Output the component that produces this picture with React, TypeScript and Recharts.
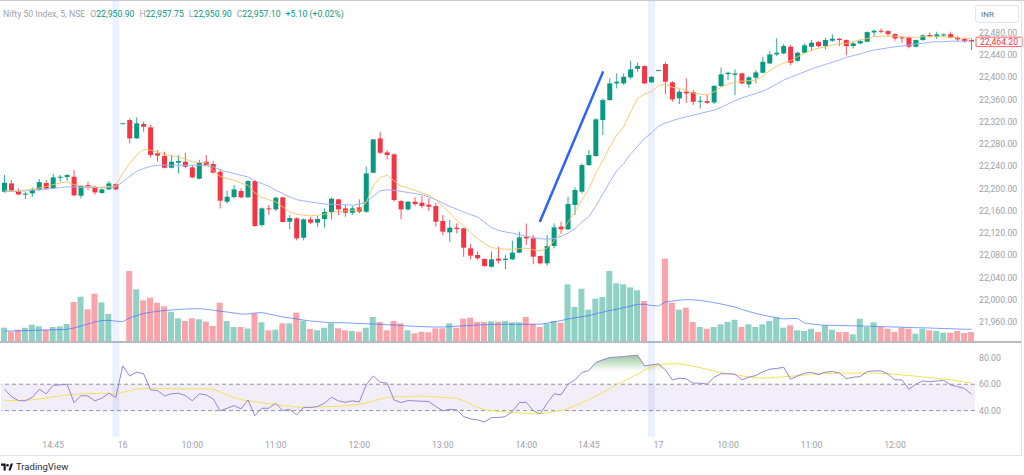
import {
  Area,
  Bar,
  ComposedChart,
  Line,
  ReferenceArea,
  ReferenceLine,
  XAxis,
  YAxis,
} from "recharts"

// 5-minute bars, three sessions (15th tail, 16th full, 17th morning)
const day15 = [
  "14:10", "14:15", "14:20", "14:25", "14:30", "14:35", "14:40", "14:45", "14:50", "14:55",
  "15:00", "15:05", "15:10", "15:15", "15:20", "15:25", "15:30",
]
const day16 = [
  "09:05", "09:15", "09:20", "09:25", "09:30", "09:35", "09:40", "09:45", "09:50", "09:55",
  "10:00", "10:05", "10:10", "10:15", "10:20", "10:25", "10:30", "10:35", "10:40", "10:45", "10:50", "10:55",
  "11:00", "11:05", "11:10", "11:15", "11:20", "11:25", "11:30", "11:35", "11:40", "11:45", "11:50", "11:55",
  "12:00", "12:05", "12:10", "12:15", "12:20", "12:25", "12:30", "12:35", "12:40", "12:45", "12:50", "12:55",
  "13:00", "13:05", "13:10", "13:15", "13:20", "13:25", "13:30", "13:35", "13:40", "13:45", "13:50", "13:55",
  "14:00", "14:05", "14:10", "14:15", "14:20", "14:25", "14:30", "14:35", "14:40", "14:45", "14:50", "14:55",
  "15:00", "15:05", "15:10", "15:15", "15:20", "15:25", "15:30",
]
const day17 = [
  "09:05", "09:15", "09:20", "09:25", "09:30", "09:35", "09:40", "09:45", "09:50", "09:55",
  "10:00", "10:05", "10:10", "10:15", "10:20", "10:25", "10:30", "10:35", "10:40", "10:45", "10:50", "10:55",
  "11:00", "11:05", "11:10", "11:15", "11:20", "11:25", "11:30", "11:35", "11:40", "11:45", "11:50", "11:55",
  "12:00", "12:05", "12:10", "12:15", "12:20", "12:25", "12:30", "12:35", "12:40", "12:45", "12:50", "12:55",
]

const open = [
  22194.4, 22209.3, 22195.6, 22189.6, 22191.4, 22197.4, 22209.9, 22200.4, 22219.5, 22220.7,
  22221.3, 22187.2, 22206.4, 22202.2, 22192.0, 22198.6, 22208.1, 22317.0, 22323.2, 22290.2,
  22316.0, 22310.0, 22263.3, 22258.5, 22237.5, 22246.5, 22248.3, 22238.1, 22217.7, 22248.3,
  22244.1, 22230.3, 22176.4, 22184.8, 22195.6, 22184.2, 22213.5, 22134.5, 22164.4, 22162.6,
  22184.2, 22140.5, 22146.5, 22111.7, 22144.7, 22138.7, 22145.3, 22157.8, 22180.6, 22164.4,
  22156.6, 22166.2, 22158.4, 22228.5, 22290.2, 22265.1, 22261.5, 22177.6, 22162.6, 22176.4,
  22174.6, 22171.0, 22168.6, 22141.7, 22121.3, 22129.7, 22128.5, 22092.6, 22080.6, 22073.4,
  22059.6, 22074.0, 22071.6, 22072.8, 22084.8, 22113.5, 22110.5, 22078.8, 22065.6, 22096.7,
  22131.5, 22126.7, 22170.4, 22194.4, 22242.3, 22258.5, 22323.2, 22359.1, 22389.1, 22389.1,
  22399.8, 22415.4, 22420.2, 22390.9, 22412.4, 22423.8, 22390.9, 22362.1, 22374.1, 22373.5,
  22356.1, 22357.3, 22354.9, 22384.3, 22405.8, 22404.6, 22407.1, 22387.3, 22399.3, 22408.3,
  22425.0, 22441.2, 22443.0, 22455.0, 22429.8, 22444.2, 22455.0, 22463.4, 22456.2, 22465.8,
  22469.4, 22467.0, 22456.2, 22461.0, 22464.0, 22480.7, 22483.7, 22483.1, 22477.7, 22471.7,
  22471.7, 22455.0, 22467.0, 22475.9, 22473.0, 22475.3, 22477.7, 22471.7, 22468.8, 22467.0,
]
const high = [
  22224.3, 22215.3, 22200.4, 22194.4, 22202.2, 22217.1, 22215.3, 22226.1, 22224.3, 22226.1,
  22233.3, 22205.8, 22212.3, 22205.2, 22200.4, 22213.5, 22209.3, 22317.8, 22326.2, 22328.0,
  22320.2, 22314.8, 22269.3, 22266.3, 22260.3, 22260.3, 22264.5, 22242.3, 22251.3, 22260.3,
  22249.5, 22235.1, 22196.2, 22206.4, 22200.4, 22215.3, 22215.3, 22166.2, 22170.4, 22185.4,
  22185.4, 22152.4, 22148.3, 22146.5, 22149.5, 22150.7, 22164.4, 22183.6, 22181.8, 22170.4,
  22168.6, 22180.6, 22239.3, 22289.0, 22302.2, 22269.3, 22263.3, 22179.4, 22177.6, 22184.2,
  22186.6, 22182.4, 22174.6, 22152.4, 22143.5, 22137.5, 22129.7, 22100.3, 22086.6, 22074.6,
  22086.6, 22095.6, 22080.6, 22106.3, 22122.5, 22137.5, 22116.5, 22080.0, 22116.5, 22137.5,
  22140.5, 22185.4, 22202.2, 22245.3, 22269.3, 22326.2, 22362.1, 22398.0, 22407.0, 22407.0,
  22429.8, 22426.2, 22421.4, 22402.2, 22413.6, 22428.0, 22393.3, 22378.3, 22398.0, 22377.1,
  22366.3, 22369.9, 22386.1, 22417.8, 22410.0, 22414.2, 22408.3, 22402.3, 22413.1, 22437.0,
  22447.2, 22470.0, 22459.8, 22458.0, 22446.0, 22461.0, 22467.0, 22465.2, 22471.2, 22477.1,
  22470.6, 22468.2, 22464.0, 22468.2, 22482.5, 22485.5, 22487.9, 22484.9, 22478.9, 22474.1,
  22474.1, 22468.2, 22477.1, 22480.7, 22481.9, 22478.9, 22481.9, 22474.1, 22471.1, 22469.4,
]
const low = [
  22192.6, 22194.4, 22187.8, 22181.2, 22185.4, 22196.2, 22198.6, 22199.8, 22212.3, 22214.1,
  22186.6, 22182.4, 22197.4, 22189.0, 22190.8, 22197.4, 22197.4, 22316.6, 22281.2, 22289.6,
  22302.2, 22256.1, 22248.3, 22236.3, 22236.3, 22227.3, 22236.3, 22218.9, 22216.5, 22241.7,
  22227.3, 22164.4, 22173.4, 22182.4, 22182.4, 22183.6, 22131.5, 22131.5, 22152.4, 22159.6,
  22139.3, 22126.7, 22106.9, 22106.9, 22136.3, 22131.5, 22129.7, 22144.7, 22152.4, 22149.5,
  22152.4, 22155.4, 22156.6, 22227.3, 22262.1, 22252.5, 22176.4, 22144.7, 22160.2, 22168.6,
  22164.4, 22159.6, 22131.5, 22116.5, 22104.5, 22119.5, 22077.6, 22072.8, 22071.6, 22059.6,
  22058.4, 22065.6, 22054.8, 22071.6, 22083.6, 22098.5, 22063.8, 22063.8, 22061.4, 22092.6,
  22118.3, 22125.5, 22152.5, 22191.4, 22240.5, 22257.3, 22296.2, 22357.9, 22380.1, 22386.1,
  22396.2, 22410.0, 22387.9, 22390.3, 22411.8, 22369.9, 22356.1, 22351.9, 22354.3, 22350.1,
  22344.1, 22351.9, 22351.9, 22383.1, 22395.0, 22368.1, 22387.3, 22381.3, 22389.1, 22407.1,
  22423.8, 22438.2, 22441.2, 22422.0, 22428.0, 22443.0, 22447.8, 22453.8, 22450.2, 22464.0,
  22456.2, 22440.0, 22452.0, 22459.8, 22463.4, 22473.0, 22478.9, 22473.0, 22465.8, 22462.2,
  22452.0, 22453.8, 22465.8, 22471.7, 22468.8, 22473.0, 22469.9, 22464.0, 22462.2, 22449.0,
]
const close = [
  22210.5, 22196.2, 22189.6, 22190.8, 22198.6, 22211.7, 22199.8, 22220.1, 22221.3, 22224.3,
  22187.8, 22204.6, 22203.4, 22193.2, 22198.6, 22209.3, 22198.6, 22317.4, 22290.2, 22317.2,
  22311.2, 22260.3, 22259.1, 22237.5, 22248.3, 22249.5, 22239.3, 22220.1, 22246.5, 22242.3,
  22228.5, 22178.2, 22185.4, 22198.6, 22184.2, 22213.5, 22132.7, 22164.4, 22162.6, 22183.6,
  22139.9, 22147.1, 22110.5, 22144.7, 22138.7, 22145.3, 22157.8, 22181.8, 22162.6, 22156.6,
  22164.4, 22158.4, 22227.3, 22288.4, 22264.5, 22260.3, 22179.4, 22162.6, 22176.4, 22172.2,
  22168.6, 22167.4, 22140.5, 22122.5, 22129.7, 22127.3, 22093.8, 22079.4, 22074.6, 22060.8,
  22072.8, 22070.4, 22074.0, 22084.8, 22112.3, 22110.5, 22077.6, 22065.6, 22096.7, 22130.3,
  22126.7, 22172.2, 22197.4, 22242.3, 22260.3, 22324.4, 22359.1, 22389.1, 22392.1, 22401.0,
  22414.2, 22420.2, 22389.1, 22401.0, 22413.0, 22392.1, 22360.3, 22374.1, 22371.1, 22356.1,
  22357.9, 22354.3, 22384.3, 22405.2, 22408.2, 22407.0, 22389.1, 22399.9, 22408.9, 22428.0,
  22441.2, 22444.2, 22456.2, 22426.2, 22444.2, 22457.4, 22462.2, 22456.2, 22467.0, 22469.4,
  22467.0, 22456.2, 22461.0, 22465.2, 22481.3, 22483.7, 22481.9, 22477.7, 22469.9, 22469.9,
  22455.0, 22467.0, 22475.3, 22473.5, 22477.1, 22477.1, 22471.1, 22468.2, 22465.2, 22464.2,
]
// volume in thousands
const volume = [
  13.3, 9.3, 11.3, 13.3, 16.3, 14.7, 11.3, 14.0, 14.7, 17.0,
  39.0, 44.3, 31.7, 47.3, 38.7, 27.0, 0, 0, 70.0, 51.7,
  40.7, 43.3, 38.3, 34.7, 29.3, 22.7, 20.0, 22.7, 21.7, 19.3,
  15.0, 38.3, 20.0, 14.0, 14.0, 12.5, 27.7, 18.7, 10.7, 11.3,
  17.7, 17.7, 28.3, 20.3, 12.0, 10.7, 13.3, 17.7, 12.7, 10.7,
  10.0, 9.3, 13.3, 24.0, 19.0, 10.7, 20.0, 17.7, 10.7, 7.7,
  9.3, 8.7, 12.7, 12.7, 17.7, 13.3, 22.3, 23.3, 19.0, 19.0,
  19.7, 19.3, 20.0, 18.7, 18.7, 24.0, 17.3, 14.0, 17.3, 20.0,
  18.3, 56.7, 34.0, 52.3, 31.3, 42.3, 44.0, 70.0, 57.7, 56.7,
  53.7, 50.7, 40.0, 0, 0, 82.5, 38.3, 31.3, 33.3, 19.0,
  14.0, 12.3, 14.0, 16.7, 19.0, 21.2, 14.0, 16.7, 14.0, 16.7,
  20.0, 23.3, 13.3, 15.7, 10.7, 10.0, 12.3, 9.0, 15.7, 11.3,
  9.0, 9.0, 6.7, 22.3, 14.0, 18.7, 14.0, 12.3, 9.0, 13.3,
  12.3, 7.3, 12.3, 10.7, 10.0, 8.3, 8.3, 10.0, 8.0, 9.0,
]
const volumeMA = [
  10, 10, 10.2, 10.4, 10.6, 10.8, 11, 11.2, 11.4, 11.7,
  13, 15, 17, 19, 20.5, 20.7, 19.8, 19.3, 23, 25.5,
  27.5, 28.7, 29.7, 30.5, 31, 31.5, 32, 32.2, 32.3, 31.7,
  30.8, 29.8, 29, 28, 27, 27, 28, 28.5, 27, 25.5,
  24, 23, 22, 21, 20, 19.5, 18.7, 18.3, 18.3, 18.2,
  17.8, 17.5, 17.2, 17, 16.7, 16.3, 16, 15.5, 15, 14.7,
  14.4, 14.1, 14, 14, 14.3, 14.8, 15.2, 15.6, 16, 16.3,
  16.7, 16.7, 16.7, 16.7, 16.7, 16.7, 16.7, 16.8, 17.8, 19.2,
  20.4, 22, 23.2, 24.3, 25.3, 27.3, 28.8, 30.5, 31.7, 33.3,
  35, 36.7, 36.7, 35.5, 35, 39, 40, 40.8, 41.3, 41.2,
  40.5, 39.5, 38.3, 37, 35.5, 34, 31.5, 29.5, 27.5, 26,
  24.5, 23.3, 22, 22.5, 22.5, 18, 17, 16.2, 15.7, 15.6,
  15.4, 15.3, 15.2, 15.1, 14.8, 14.6, 14.4, 14.2, 14, 13.8,
  13.5, 13.3, 13.2, 13, 12.7, 12.5, 12.3, 12, 11.8, 11.7,
]
const emaFast = [
  22196, 22196, 22196, 22197, 22199, 22201, 22204, 22207, 22210, 22212,
  22207, 22205, 22204, 22203, 22202, 22204, 22205, 22228, 22245, 22260,
  22270, 22269, 22266, 22262, 22259, 22257, 22253, 22248, 22247, 22246,
  22232, 22222, 22218, 22215, 22210, 22206, 22192, 22184, 22180, 22176,
  22167, 22158, 22154, 22152, 22151, 22152, 22154, 22157, 22159, 22160,
  22161, 22161, 22175, 22205, 22220, 22224, 22214, 22204, 22201, 22197,
  22192, 22188, 22180, 22168, 22156, 22143, 22133, 22121, 22110, 22101,
  22094, 22092, 22091, 22091, 22092, 22093, 22090, 22088, 22093, 22106,
  22120, 22140, 22158, 22180, 22200, 22228, 22250, 22275, 22296, 22311,
  22338, 22362, 22370, 22374, 22385, 22388, 22382, 22380, 22376, 22372,
  22370, 22368, 22374, 22382, 22388, 22391, 22393, 22394, 22395, 22402,
  22412, 22420, 22426, 22430, 22437, 22443, 22449, 22452, 22455, 22458,
  22460, 22461, 22464, 22467, 22470, 22473, 22474, 22474, 22474, 22473,
  22472, 22472, 22473, 22473, 22473, 22473, 22472, 22471, 22470, 22470,
]
const emaSlow = [
  22194, 22195, 22195, 22196, 22197, 22198, 22199, 22200, 22202, 22203,
  22203, 22202, 22202, 22202, 22202, 22202, 22203, 22212, 22222, 22231,
  22236, 22240, 22242, 22242, 22242, 22242, 22242, 22242, 22242, 22241,
  22239, 22234, 22230, 22227, 22224, 22221, 22214, 22209, 22204, 22197,
  22191, 22185, 22180, 22178, 22176, 22174, 22172, 22172, 22171, 22171,
  22170, 22172, 22176, 22186, 22196, 22198, 22197, 22195, 22193, 22191,
  22189, 22185, 22180, 22174, 22168, 22163, 22158, 22153, 22149, 22140,
  22130, 22125, 22122, 22120, 22117, 22114, 22112, 22110, 22109, 22110,
  22114, 22120, 22128, 22140, 22150, 22168, 22190, 22212, 22232, 22245,
  22262, 22276, 22290, 22300, 22312, 22318, 22322, 22326, 22329, 22332,
  22335, 22338, 22341, 22346, 22352, 22358, 22363, 22367, 22371, 22375,
  22381, 22388, 22395, 22400, 22405, 22410, 22415, 22419, 22423, 22427,
  22431, 22436, 22439, 22442, 22446, 22449, 22451, 22453, 22455, 22456,
  22458, 22460, 22461, 22463, 22464, 22464, 22465, 22465, 22465, 22465,
]
const rsi = [
  56.2, 50.6, 47.6, 47.4, 50.1, 56.2, 52.7, 59.2, 59.5, 60.0,
  46.1, 51.4, 51.1, 47.4, 49.4, 53.2, 49.9, 73.9, 66.3, 69.1,
  67.9, 55.7, 55.2, 51.1, 52.7, 53.2, 51.4, 47.4, 52.7, 51.9,
  48.9, 39.8, 41.8, 43.8, 41.3, 48.1, 36.2, 41.8, 41.8, 45.6,
  40.0, 41.0, 36.7, 42.5, 42.3, 43.1, 45.6, 50.1, 47.4, 46.3,
  47.4, 46.6, 59.5, 66.3, 61.5, 60.8, 48.1, 46.1, 47.6, 47.4,
  47.1, 46.9, 43.1, 39.8, 41.0, 40.5, 35.5, 33.7, 33.0, 31.4,
  34.7, 34.7, 35.5, 39.3, 46.1, 46.3, 40.0, 37.5, 45.6, 52.7,
  51.9, 60.0, 63.3, 68.9, 70.4, 76.5, 78.5, 80.3, 80.5, 81.0,
  81.5, 82.0, 73.9, 74.7, 75.4, 70.9, 63.3, 64.6, 64.1, 60.8,
  60.8, 60.0, 65.3, 67.9, 67.9, 67.6, 63.3, 65.3, 66.6, 69.4,
  71.4, 71.9, 72.9, 63.8, 66.3, 68.4, 68.9, 67.4, 69.1, 69.6,
  68.6, 64.3, 65.3, 65.8, 69.6, 70.1, 70.1, 67.6, 63.3, 63.3,
  56.2, 60.0, 62.5, 61.8, 62.5, 62.8, 59.5, 58.2, 56.7, 52.4,
]
const rsiMA = [
  47.6, 47.7, 47.8, 47.9, 48.1, 48.8, 49.6, 50.4, 51.2, 51.9,
  52.3, 52.6, 52.9, 53.1, 53.1, 52.8, 52.4, 53.8, 55.2, 56.3,
  56.7, 57.0, 56.9, 56.7, 56.5, 56.5, 56.5, 56.5, 56.5, 56.5,
  56.3, 54.0, 51.8, 49.8, 48.3, 47.5, 46.7, 45.9, 45.2, 44.6,
  43.9, 43.3, 42.7, 42.5, 42.6, 42.8, 43.0, 43.1, 43.4, 43.8,
  44.3, 44.8, 45.8, 47.2, 48.6, 50.1, 50.4, 50.6, 50.8, 51.0,
  51.0, 50.7, 50.4, 50.0, 49.7, 49.4, 47.5, 45.0, 42.5, 40.8,
  40.0, 39.4, 38.9, 38.6, 38.3, 38.0, 37.6, 37.7, 38.3, 39.2,
  40.1, 41.6, 43.5, 46.0, 48.5, 50.8, 53.7, 56.8, 59.5, 62.3,
  65.0, 67.8, 70.7, 72.8, 74.6, 75.3, 75.5, 75.4, 74.6, 73.6,
  72.5, 71.2, 69.8, 68.8, 68.0, 67.2, 66.4, 65.7, 65.0, 64.6,
  64.8, 65.2, 65.6, 66.0, 66.5, 67.0, 67.5, 67.8, 68.0, 68.2,
  68.4, 68.4, 68.4, 68.4, 68.4, 68.4, 68.3, 68.0, 67.5, 67.0,
  66.6, 66.1, 65.5, 65.0, 64.4, 63.9, 63.3, 62.5, 61.6, 60.8,
]

const priceTicks = [
  21960, 22000, 22040, 22080, 22120, 22160, 22200, 22240, 22280, 22320, 22360, 22400, 22440, 22480,
]
const rsiTicks = [40, 60, 80]
const timeTicks = [
  "15 14:45", "16 09:05", "16 10:00", "16 11:00", "16 12:00", "16 13:00",
  "16 14:00", "16 14:45", "17 09:05", "17 10:00", "17 11:00", "17 12:00",
]
const sessionCloseBars = ["15 15:30", "16 15:30"]
const trendLine = [
  { t: "16 14:10", price: 22141.7 },
  { t: "16 14:55", price: 22408.9 },
]
const lastPrice = 22464.2
const header = { O: "22,950.90", H: "22,957.75", L: "22,950.90", C: "22,957.10", change: "+5.10 (+0.02%)" }

const PRICE_DOMAIN = [21926, 22539]
const VOL_DOMAIN = [0, 341]
const RSI_DOMAIN = [20, 92]

const UP = "#089981"
const DOWN = "#f23645"
const AXIS_TEXT = "#9c9fa8"
const FONT = "Roboto, 'Noto Sans', sans-serif"

const times = [
  ...day15.map((m) => `15 ${m}`),
  ...day16.map((m) => `16 ${m}`),
  ...day17.map((m) => `17 ${m}`),
]

const rows = times.map((t, i) => ({
  t,
  open: open[i],
  high: high[i],
  low: low[i],
  close: close[i],
  candle: [low[i], high[i]],
  volume: volume[i],
  volumeMA: volumeMA[i],
  emaFast: emaFast[i],
  emaSlow: emaSlow[i],
  rsi: rsi[i],
  rsiMA: rsiMA[i],
  overbought: [70, Math.max(rsi[i], 70)],
  hlPrice: sessionCloseBars.includes(t) ? PRICE_DOMAIN : null,
  hlRsi: sessionCloseBars.includes(t) ? RSI_DOMAIN : null,
}))

const fmt2 = (v: number) =>
  v.toLocaleString("en-US", { minimumFractionDigits: 2, maximumFractionDigits: 2 })

const timeLabel = (t: string) => {
  const [day, hm] = t.split(" ")
  return hm === "09:05" ? day : hm
}

function Candle(props: any) {
  const { x, y, width, height } = props
  const d = props.payload ?? props
  const color = d.close >= d.open ? UP : DOWN
  const top = Math.min(y, y + height)
  const h = Math.abs(height)
  const k = h / (d.high - d.low)
  const yO = top + (d.high - d.open) * k
  const yC = top + (d.high - d.close) * k
  const cx = x + width / 2
  return (
    <g>
      <line x1={cx} x2={cx} y1={top} y2={top + h} stroke={color} strokeWidth={1} strokeOpacity={0.85} />
      <rect x={x} y={Math.min(yO, yC)} width={width} height={Math.max(Math.abs(yO - yC), 1)} fill={color} />
    </g>
  )
}

function VolumeBar(props: any) {
  const { x, y, width, height } = props
  const d = props.payload ?? props
  if (!height) return <g />
  return (
    <rect x={x} y={y} width={width} height={height} fill={d.close >= d.open ? UP : DOWN} fillOpacity={0.45} />
  )
}

function PriceTag(props: any) {
  const { viewBox } = props
  if (!viewBox) return null
  const x = viewBox.x + viewBox.width + 1
  const y = viewBox.y
  return (
    <g>
      <rect x={x} y={y - 4.5} width={46} height={9.5} rx={1} fill="#fff" stroke={DOWN} strokeWidth={0.8} />
      <text x={x + 23} y={y + 3} textAnchor="middle" fontSize={8.7} fontFamily={FONT} fill={DOWN}>
        {fmt2(lastPrice)}
      </text>
    </g>
  )
}

function Header() {
  const gray = { color: "#a0a3ab" }
  const val = { color: UP }
  return (
    <div
      style={{
        position: "absolute",
        left: 3,
        top: 8,
        fontSize: 8.7,
        lineHeight: "12px",
        whiteSpace: "nowrap",
        zIndex: 2,
      }}
    >
      <span style={gray}>Nifty 50 Index, 5, NSE</span>
      {(["O", "H", "L", "C"] as const).map((k) => (
        <span key={k} style={{ marginLeft: 5 }}>
          <span style={gray}>{k}</span>
          <span style={val}>{header[k]}</span>
        </span>
      ))}
      <span style={{ ...val, marginLeft: 5 }}>{header.change}</span>
    </div>
  )
}

function Logo() {
  return (
    <div style={{ position: "absolute", left: 1, top: 461, display: "flex", alignItems: "center", gap: 3 }}>
      <svg width={12} height={8} viewBox="0 0 14 8">
        <path d="M0 0h5.5v8H3V2.4H0z" fill="#131722" />
        <circle cx={7.6} cy={2} r={1.5} fill="#131722" />
        <path d="M8.6 8L11.4 0H14l-2.8 8z" fill="#131722" />
      </svg>
      <span style={{ fontSize: 9.5, color: "#2a2e39" }}>TradingView</span>
    </div>
  )
}

export default function App() {
  return (
    <div
      style={{
        position: "absolute",
        left: 0,
        top: 0,
        width: 1024,
        height: 475,
        background: "#fff",
        overflow: "hidden",
        fontFamily: FONT,
      }}
    >
      <Header />

      <div
        style={{
          position: "absolute",
          left: 975,
          top: 5,
          width: 44,
          height: 18,
          border: "1px solid #e0e3eb",
          borderRadius: 3,
          fontSize: 8,
          lineHeight: "18px",
          color: "#6a6d78",
          paddingLeft: 5,
          boxSizing: "border-box",
          background: "#fff",
          zIndex: 2,
        }}
      >
        INR
      </div>

      <div style={{ position: "absolute", left: 0, top: 0 }}>
        <ComposedChart
          width={1024}
          height={341}
          data={rows}
          margin={{ top: 0, right: 0, bottom: 0, left: 1 }}
          barCategoryGap={0}
        >
          <XAxis xAxisId="hl" dataKey="t" hide />
          <XAxis xAxisId="v" dataKey="t" hide />
          <XAxis xAxisId="c" dataKey="t" hide />
          <YAxis
            yAxisId="price"
            orientation="right"
            width={49}
            domain={PRICE_DOMAIN}
            allowDataOverflow
            ticks={priceTicks}
            tickFormatter={fmt2}
            axisLine={false}
            tickLine={false}
            tickSize={0}
            tickMargin={4}
            tick={{ fontSize: 8.7, fill: AXIS_TEXT }}
          />
          <YAxis yAxisId="vol" hide domain={VOL_DOMAIN} allowDataOverflow />

          <Bar
            xAxisId="hl"
            yAxisId="price"
            dataKey="hlPrice"
            fill="#2962ff"
            fillOpacity={0.09}
            isAnimationActive={false}
          />
          <Bar
            xAxisId="v"
            yAxisId="vol"
            dataKey="volume"
            barSize={6}
            shape={<VolumeBar />}
            isAnimationActive={false}
          />
          <Line
            xAxisId="v"
            yAxisId="vol"
            dataKey="volumeMA"
            type="linear"
            stroke="#2962ff"
            strokeOpacity={0.6}
            strokeWidth={1}
            dot={false}
            isAnimationActive={false}
          />
          <Bar
            xAxisId="c"
            yAxisId="price"
            dataKey="candle"
            barSize={5}
            shape={<Candle />}
            isAnimationActive={false}
          />
          <Line
            xAxisId="c"
            yAxisId="price"
            dataKey="emaSlow"
            type="linear"
            stroke="#9fb4fa"
            strokeWidth={1}
            dot={false}
            isAnimationActive={false}
          />
          <Line
            xAxisId="c"
            yAxisId="price"
            dataKey="emaFast"
            type="linear"
            stroke="#f8c463"
            strokeOpacity={0.9}
            strokeWidth={1}
            dot={false}
            isAnimationActive={false}
          />
          <ReferenceLine
            xAxisId="c"
            yAxisId="price"
            segment={[
              { x: trendLine[0].t, y: trendLine[0].price },
              { x: trendLine[1].t, y: trendLine[1].price },
            ]}
            stroke="#2962ff"
            strokeWidth={2.5}
            strokeLinecap="round"
            ifOverflow="visible"
          />
          <ReferenceLine
            xAxisId="c"
            yAxisId="price"
            y={lastPrice}
            stroke="none"
            label={<PriceTag />}
          />
        </ComposedChart>
      </div>

      <div style={{ position: "absolute", left: 0, top: 341, width: 1022, height: 1.5, background: "#b9bbc2" }} />

      <div style={{ position: "absolute", left: 0, top: 342 }}>
        <ComposedChart
          width={1024}
          height={113}
          data={rows}
          margin={{ top: 0, right: 0, bottom: 0, left: 1 }}
          barCategoryGap={0}
        >
          <defs>
            <linearGradient id="obFill" x1="0" y1="0" x2="0" y2="1">
              <stop offset="0%" stopColor="#43a047" stopOpacity={0.55} />
              <stop offset="100%" stopColor="#43a047" stopOpacity={0} />
            </linearGradient>
          </defs>
          <XAxis
            dataKey="t"
            ticks={timeTicks}
            interval={0}
            tickFormatter={timeLabel}
            axisLine={false}
            tickLine={false}
            tickSize={0}
            tickMargin={5}
            height={18}
            tick={{ fontSize: 8.7, fill: AXIS_TEXT }}
          />
          <YAxis
            orientation="right"
            width={49}
            domain={RSI_DOMAIN}
            allowDataOverflow
            ticks={rsiTicks}
            tickFormatter={(v: number) => v.toFixed(2)}
            axisLine={false}
            tickLine={false}
            tickSize={0}
            tickMargin={4}
            tick={{ fontSize: 8.7, fill: AXIS_TEXT }}
          />
          <ReferenceArea y1={40} y2={60} fill="#7e57c2" fillOpacity={0.1} stroke="none" />
          <ReferenceLine y={60} stroke="#787b86" strokeOpacity={0.8} strokeDasharray="4 3" />
          <ReferenceLine y={40} stroke="#787b86" strokeOpacity={0.8} strokeDasharray="4 3" />
          <Bar dataKey="hlRsi" fill="#2962ff" fillOpacity={0.09} isAnimationActive={false} />
          <Area
            dataKey="overbought"
            type="linear"
            stroke="none"
            fill="url(#obFill)"
            fillOpacity={1}
            isAnimationActive={false}
          />
          <Line
            dataKey="rsiMA"
            type="linear"
            stroke="#f5e15a"
            strokeWidth={1}
            dot={false}
            isAnimationActive={false}
          />
          <Line
            dataKey="rsi"
            type="linear"
            stroke="#9983d6"
            strokeWidth={1}
            dot={false}
            isAnimationActive={false}
          />
        </ComposedChart>
      </div>

      <div style={{ position: "absolute", left: 0, top: 0, width: 1024, height: 1, background: "#c9cbd1" }} />
      <div style={{ position: "absolute", left: 1021, top: 0, width: 1, height: 456, background: "#e0e3eb" }} />
      <div style={{ position: "absolute", left: 0, top: 455, width: 1022, height: 1, background: "#e0e3eb" }} />

      <Logo />
    </div>
  )
}
